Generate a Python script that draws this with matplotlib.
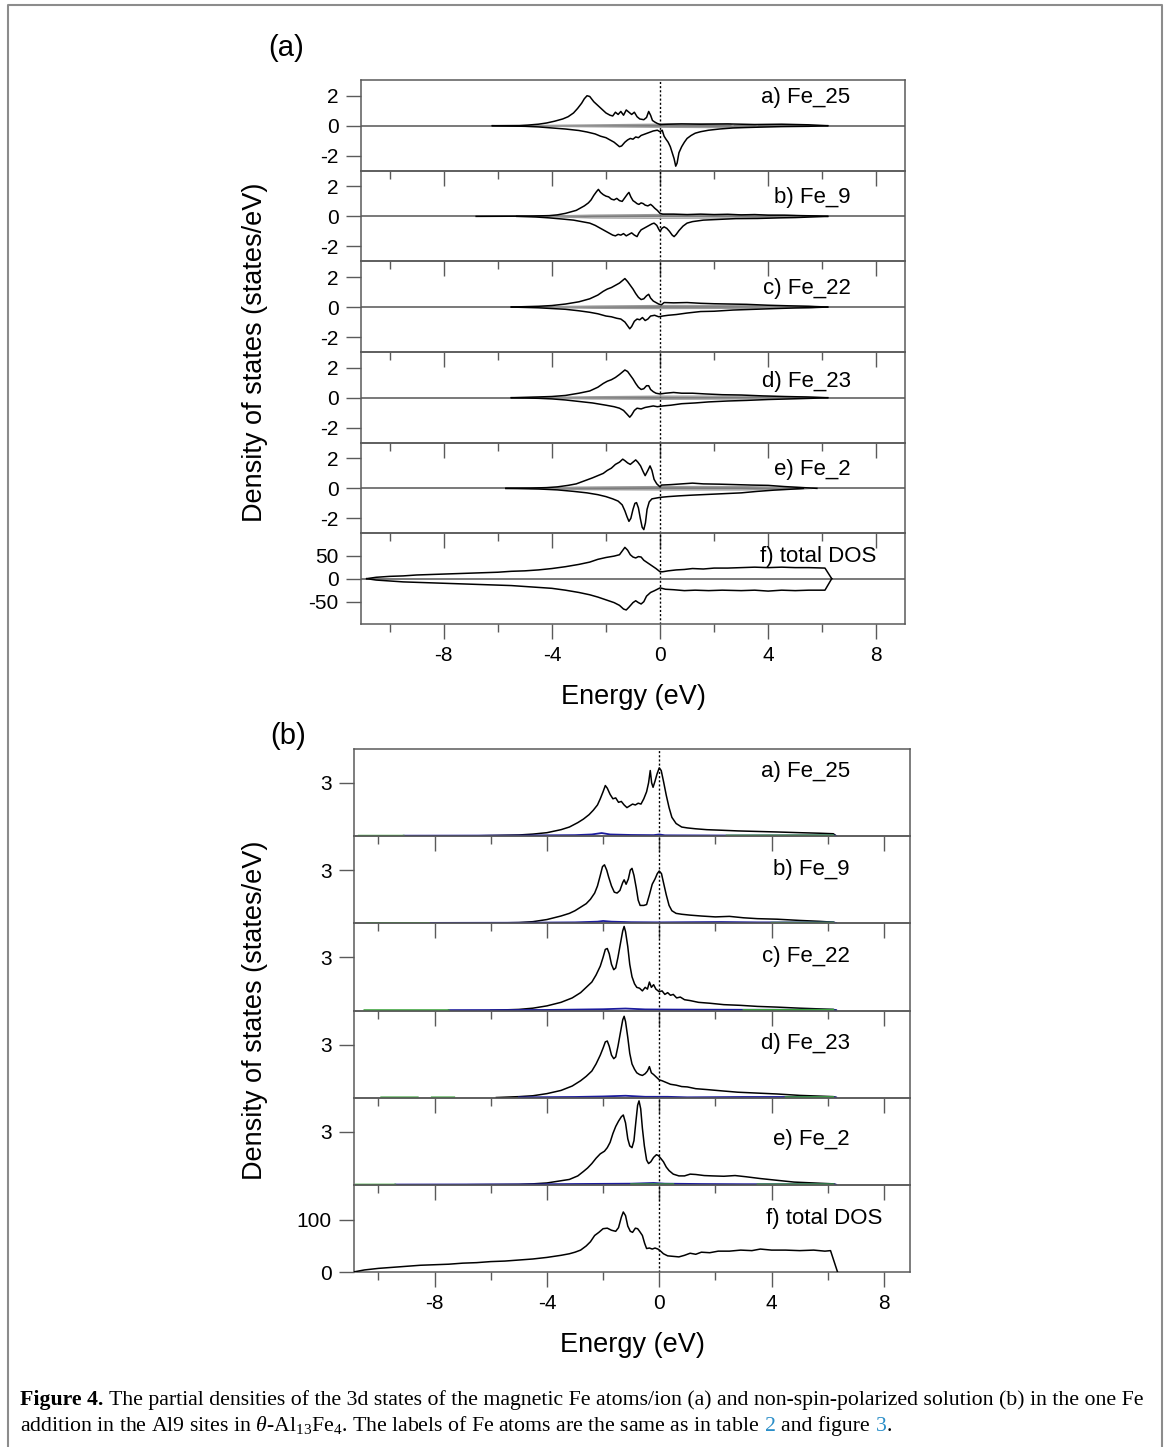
import numpy as np
import matplotlib.pyplot as plt
from matplotlib.lines import Line2D

plt.rcParams['font.family'] = ['Liberation Sans', 'DejaVu Sans']
plt.rcParams['axes.unicode_minus'] = False
plt.rcParams['mathtext.fontset'] = 'custom'
plt.rcParams['mathtext.rm'] = 'Liberation Serif'
plt.rcParams['mathtext.it'] = 'Liberation Serif:italic'

nan = float('nan')

## (a) spin-polarized 3d DOS: (energy eV, states/eV), spin up > 0, spin down < 0
spin_labels = ['a) Fe_25', 'b) Fe_9', 'c) Fe_22', 'd) Fe_23', 'e) Fe_2', 'f) total DOS']

fe25_up = [(-6.2, 0.0), (-5.2, 0.01), (-4.9, 0.04), (-4.5, 0.1), (-4.2, 0.18), (-3.9, 0.3), (-3.6, 0.45),
           (-3.4, 0.6), (-3.2, 0.85), (-3.05, 1.15), (-2.9, 1.5), (-2.8, 1.8), (-2.7, 2.0), (-2.6, 1.95),
           (-2.45, 1.6), (-2.3, 1.35), (-2.15, 1.1), (-2.0, 0.85), (-1.85, 0.7), (-1.75, 0.65), (-1.65, 0.9),
           (-1.55, 0.75), (-1.45, 0.95), (-1.35, 0.7), (-1.25, 1.05), (-1.15, 0.9), (-1.05, 0.75), (-0.95, 0.9),
           (-0.85, 0.6), (-0.75, 0.45), (-0.6, 0.4), (-0.5, 0.55), (-0.42, 0.95), (-0.35, 0.7), (-0.28, 0.35),
           (-0.2, 0.25), (-0.1, 0.15), (0.0, 0.08), (0.3, 0.1), (0.8, 0.12), (1.5, 0.1), (2.5, 0.12),
           (3.5, 0.08), (4.5, 0.1), (5.5, 0.06), (6.2, 0.0)]
fe25_dn = [(-6.2, 0.0), (-5.0, -0.04), (-4.5, -0.08), (-4.0, -0.15), (-3.5, -0.22), (-3.0, -0.32),
           (-2.7, -0.42), (-2.4, -0.55), (-2.2, -0.7), (-2.0, -0.8), (-1.85, -0.95), (-1.7, -1.1),
           (-1.6, -1.25), (-1.5, -1.4), (-1.42, -1.35), (-1.3, -1.1), (-1.2, -0.95), (-1.1, -0.85),
           (-1.0, -0.9), (-0.9, -0.75), (-0.8, -0.8), (-0.7, -0.65), (-0.55, -0.55), (-0.4, -0.45),
           (-0.25, -0.35), (-0.1, -0.3), (0.0, -0.4), (0.08, -0.3), (0.15, -0.7), (0.22, -0.9), (0.3, -1.1),
           (0.38, -1.4), (0.45, -1.8), (0.52, -2.2), (0.58, -2.7), (0.63, -2.5), (0.7, -1.8), (0.8, -1.4),
           (0.9, -1.1), (1.0, -0.85), (1.15, -0.65), (1.3, -0.5), (1.5, -0.4), (1.8, -0.3), (2.2, -0.22),
           (2.7, -0.15), (3.2, -0.12), (3.6, -0.1), (4.5, -0.06), (5.5, -0.04), (6.2, 0.0)]
fe25_grey_up = [(-5.2, 0.0), (-3.0, 0.04), (0.0, 0.1), (1.5, 0.12), (2.6, 0.1), (2.7, 0.0)]
fe25_grey_dn = [(-5.2, 0.0), (-3.0, -0.06), (0.0, -0.1), (2.0, -0.12), (3.5, -0.1), (3.6, 0.0)]

fe9_up = [(-6.8, 0.0), (-5.5, 0.01), (-4.8, 0.02), (-4.1, 0.05), (-3.8, 0.1), (-3.5, 0.2), (-3.3, 0.3),
          (-3.1, 0.4), (-2.95, 0.55), (-2.8, 0.7), (-2.65, 0.9), (-2.55, 1.1), (-2.45, 1.4), (-2.35, 1.65),
          (-2.28, 1.8), (-2.2, 1.6), (-2.1, 1.45), (-2.0, 1.35), (-1.9, 1.3), (-1.8, 1.15), (-1.7, 1.1),
          (-1.6, 1.2), (-1.5, 1.05), (-1.4, 1.0), (-1.3, 1.25), (-1.2, 1.5), (-1.15, 1.6), (-1.08, 1.3),
          (-1.0, 1.05), (-0.92, 0.95), (-0.85, 0.85), (-0.78, 0.8), (-0.7, 0.9), (-0.62, 0.85), (-0.55, 0.75),
          (-0.45, 0.7), (-0.35, 0.8), (-0.28, 0.7), (-0.2, 0.55), (-0.1, 0.4), (0.0, 0.2), (0.1, 0.15),
          (0.5, 0.15), (1.0, 0.12), (1.5, 0.15), (2.0, 0.12), (2.5, 0.14), (3.0, 0.1), (3.5, 0.12),
          (4.0, 0.08), (4.6, 0.08), (5.2, 0.05), (5.8, 0.03), (6.2, 0.0)]
fe9_dn = [(-5.3, 0.0), (-4.6, -0.04), (-4.1, -0.1), (-3.6, -0.18), (-3.2, -0.25), (-2.9, -0.35), (-2.6, -0.45),
          (-2.4, -0.6), (-2.2, -0.8), (-2.05, -0.95), (-1.9, -1.1), (-1.75, -1.25), (-1.65, -1.3),
          (-1.55, -1.2), (-1.45, -1.25), (-1.35, -1.15), (-1.25, -1.3), (-1.15, -1.2), (-1.05, -1.1),
          (-0.95, -1.25), (-0.85, -1.35), (-0.78, -1.1), (-0.7, -0.9), (-0.6, -0.8), (-0.5, -0.7),
          (-0.4, -0.6), (-0.3, -0.5), (-0.22, -0.45), (-0.12, -0.6), (-0.05, -0.85), (0.0, -1.0),
          (0.07, -0.8), (0.15, -0.7), (0.25, -0.8), (0.35, -1.0), (0.45, -1.25), (0.52, -1.35), (0.6, -1.2),
          (0.7, -0.95), (0.85, -0.65), (1.0, -0.45), (1.2, -0.35), (1.6, -0.25), (2.2, -0.2), (2.8, -0.15),
          (3.6, -0.14), (4.4, -0.1), (5.0, -0.08), (5.6, -0.04), (6.2, 0.0)]
fe9_grey_up = [(-4.7, 0.0), (-2.5, 0.08), (0.0, 0.12), (3.0, 0.1), (5.0, 0.05), (5.2, 0.0)]
fe9_grey_dn = [(-4.7, 0.0), (-2.5, -0.1), (0.0, -0.12), (3.0, -0.1), (5.0, -0.05), (5.2, 0.0)]

fe22_up = [(-5.5, 0.0), (-4.5, 0.05), (-4.0, 0.1), (-3.5, 0.2), (-3.0, 0.35), (-2.6, 0.55), (-2.3, 0.8),
           (-2.1, 1.05), (-1.95, 1.2), (-1.8, 1.3), (-1.65, 1.45), (-1.5, 1.6), (-1.4, 1.75), (-1.3, 1.9),
           (-1.2, 1.7), (-1.1, 1.45), (-1.0, 1.2), (-0.9, 0.9), (-0.8, 0.65), (-0.7, 0.5), (-0.6, 0.55),
           (-0.5, 0.75), (-0.42, 0.85), (-0.35, 0.6), (-0.25, 0.4), (-0.15, 0.3), (-0.05, 0.2), (0.05, 0.15),
           (0.15, 0.3), (0.5, 0.28), (1.0, 0.3), (1.5, 0.25), (2.0, 0.22), (2.6, 0.2), (3.2, 0.18),
           (4.0, 0.12), (4.8, 0.08), (5.5, 0.05), (6.2, 0.0)]
fe22_dn = [(-5.5, 0.0), (-4.5, -0.05), (-4.0, -0.1), (-3.5, -0.15), (-3.0, -0.25), (-2.6, -0.35),
           (-2.3, -0.45), (-2.0, -0.6), (-1.8, -0.65), (-1.6, -0.75), (-1.45, -0.8), (-1.3, -1.0),
           (-1.2, -1.25), (-1.12, -1.45), (-1.05, -1.3), (-0.95, -0.95), (-0.85, -0.8), (-0.75, -0.85),
           (-0.65, -0.7), (-0.55, -0.9), (-0.45, -0.8), (-0.35, -0.6), (-0.2, -0.55), (-0.05, -0.65),
           (0.1, -0.6), (0.3, -0.55), (0.6, -0.5), (1.0, -0.4), (1.5, -0.3), (2.0, -0.28), (2.7, -0.2),
           (3.5, -0.15), (4.3, -0.1), (5.0, -0.06), (5.6, -0.04), (6.2, 0.0)]
fe22_grey_up = [(-5.0, 0.0), (-2.5, 0.06), (0.0, 0.1), (3.0, 0.1), (5.5, 0.04), (6.0, 0.0)]
fe22_grey_dn = [(-5.0, 0.0), (-2.5, -0.08), (0.0, -0.1), (3.0, -0.08), (5.5, -0.04), (6.0, 0.0)]

fe23_up = [(-5.5, 0.0), (-4.5, 0.05), (-4.0, 0.08), (-3.5, 0.15), (-3.0, 0.3), (-2.6, 0.45), (-2.3, 0.7),
           (-2.1, 0.95), (-1.95, 1.1), (-1.8, 1.2), (-1.65, 1.35), (-1.5, 1.55), (-1.4, 1.7), (-1.3, 1.85),
           (-1.2, 1.75), (-1.1, 1.5), (-1.0, 1.25), (-0.9, 0.95), (-0.8, 0.7), (-0.7, 0.55), (-0.6, 0.6),
           (-0.5, 0.8), (-0.42, 0.8), (-0.35, 0.55), (-0.25, 0.4), (-0.15, 0.3), (0.0, 0.25), (0.2, 0.3),
           (0.5, 0.35), (0.8, 0.3), (1.2, 0.3), (1.7, 0.25), (2.3, 0.2), (3.0, 0.18), (3.8, 0.12),
           (4.6, 0.08), (5.4, 0.05), (6.2, 0.0)]
fe23_dn = [(-5.5, 0.0), (-4.5, -0.04), (-4.0, -0.08), (-3.5, -0.15), (-3.0, -0.25), (-2.5, -0.35),
           (-2.0, -0.5), (-1.7, -0.6), (-1.5, -0.7), (-1.35, -0.85), (-1.22, -1.1), (-1.12, -1.3),
           (-1.05, -1.15), (-0.95, -0.85), (-0.85, -0.7), (-0.7, -0.75), (-0.55, -0.65), (-0.4, -0.6),
           (-0.25, -0.55), (-0.1, -0.6), (0.1, -0.55), (0.4, -0.5), (0.8, -0.4), (1.3, -0.35), (1.8, -0.28),
           (2.5, -0.22), (3.2, -0.18), (4.0, -0.12), (4.8, -0.08), (5.6, -0.04), (6.2, 0.0)]
fe23_grey_up = [(-5.0, 0.0), (-2.5, 0.06), (0.0, 0.1), (3.0, 0.1), (5.5, 0.04), (6.0, 0.0)]
fe23_grey_dn = [(-5.0, 0.0), (-2.5, -0.08), (0.0, -0.1), (3.0, -0.08), (5.5, -0.04), (6.0, 0.0)]

fe2_up = [(-5.7, 0.0), (-4.8, 0.02), (-4.2, 0.05), (-3.8, 0.1), (-3.4, 0.2), (-3.1, 0.3), (-2.8, 0.5),
          (-2.5, 0.7), (-2.3, 0.85), (-2.1, 1.0), (-1.95, 1.2), (-1.8, 1.35), (-1.65, 1.6), (-1.5, 1.75),
          (-1.38, 1.95), (-1.3, 1.85), (-1.2, 1.7), (-1.1, 1.6), (-1.0, 1.75), (-0.9, 1.9), (-0.82, 1.75),
          (-0.72, 1.5), (-0.62, 1.1), (-0.55, 0.85), (-0.45, 1.2), (-0.37, 1.5), (-0.3, 1.2), (-0.22, 0.6),
          (-0.12, 0.3), (0.0, 0.1), (0.05, 0.22), (0.4, 0.25), (0.8, 0.3), (1.2, 0.35), (1.6, 0.3),
          (2.2, 0.28), (2.8, 0.25), (3.4, 0.22), (4.0, 0.2), (4.6, 0.12), (5.2, 0.06), (5.8, 0.0)]
fe2_dn = [(-5.7, 0.0), (-4.5, -0.04), (-3.8, -0.1), (-3.2, -0.2), (-2.7, -0.3), (-2.3, -0.42), (-2.0, -0.55),
          (-1.75, -0.7), (-1.55, -0.85), (-1.4, -1.1), (-1.3, -1.5), (-1.22, -1.9), (-1.15, -2.2),
          (-1.08, -2.0), (-1.0, -1.4), (-0.93, -1.0), (-0.87, -0.95), (-0.8, -1.3), (-0.73, -2.0),
          (-0.66, -2.6), (-0.6, -2.75), (-0.54, -2.3), (-0.48, -1.4), (-0.4, -0.9), (-0.3, -0.7),
          (-0.15, -0.65), (0.0, -0.6), (0.3, -0.55), (0.7, -0.5), (1.2, -0.45), (1.8, -0.4), (2.4, -0.35),
          (3.0, -0.3), (3.6, -0.2), (4.2, -0.12), (4.8, -0.06), (5.3, 0.0)]
fe2_grey_up = [(-4.8, 0.0), (-3.0, 0.08), (0.0, 0.12), (3.0, 0.12), (5.2, 0.05), (5.6, 0.0)]
fe2_grey_dn = [(-4.8, 0.0), (-3.0, -0.08), (0.0, -0.1), (3.0, -0.1), (5.2, -0.05), (5.6, 0.0)]

tot_up = [(-10.85, 0), (-10.5, 3), (-10.0, 5), (-9.5, 6), (-9.0, 8), (-8.5, 9), (-8.0, 10), (-7.5, 11),
          (-7.0, 12), (-6.5, 13), (-6.0, 14), (-5.5, 16), (-5.0, 17), (-4.5, 19), (-4.0, 22), (-3.5, 26),
          (-3.0, 31), (-2.6, 36), (-2.3, 42), (-2.0, 46), (-1.7, 49), (-1.5, 52), (-1.4, 60), (-1.3, 68),
          (-1.2, 62), (-1.1, 52), (-1.0, 47), (-0.9, 45), (-0.8, 48), (-0.7, 47), (-0.6, 40), (-0.45, 34),
          (-0.3, 28), (-0.15, 22), (0.0, 15), (0.1, 15), (0.3, 17), (0.6, 19), (0.9, 20), (1.2, 22),
          (1.6, 21), (2.0, 23), (2.5, 23), (3.0, 24), (3.5, 25), (4.0, 24), (4.5, 25), (5.0, 24),
          (5.5, 24), (6.1, 23), (6.35, 0)]
tot_dn = [(-10.85, 0), (-10.5, -3), (-10.0, -5), (-9.5, -7), (-9.0, -8), (-8.5, -9), (-8.0, -10),
          (-7.5, -11), (-7.0, -12), (-6.5, -13), (-6.0, -14), (-5.5, -15), (-5.0, -17), (-4.5, -19),
          (-4.0, -21), (-3.5, -25), (-3.0, -30), (-2.6, -35), (-2.3, -40), (-2.0, -46), (-1.7, -52),
          (-1.5, -58), (-1.35, -66), (-1.25, -68), (-1.15, -62), (-1.0, -52), (-0.9, -48), (-0.8, -52),
          (-0.7, -55), (-0.6, -50), (-0.5, -38), (-0.35, -30), (-0.2, -26), (0.0, -20), (0.2, -23),
          (0.5, -24), (0.9, -26), (1.3, -25), (1.8, -26), (2.3, -25), (3.0, -26), (3.5, -25), (4.0, -27),
          (4.5, -25), (5.0, -26), (5.5, -25), (6.1, -25), (6.35, 0)]

## (b) non-spin-polarized 3d DOS
np_fe25 = [(-6.6, 0.0), (-6.0, 0.02), (-5.0, 0.05), (-4.5, 0.1), (-4.0, 0.18), (-3.5, 0.35),
           (-3.2, 0.5), (-2.9, 0.75), (-2.7, 0.95), (-2.5, 1.2), (-2.35, 1.45), (-2.2, 1.75), (-2.1, 2.1),
           (-2.0, 2.5), (-1.92, 2.85), (-1.85, 2.7), (-1.75, 2.35), (-1.65, 2.1), (-1.55, 2.15), (-1.45, 1.9),
           (-1.35, 1.95), (-1.25, 1.75), (-1.15, 1.6), (-1.05, 1.7), (-0.95, 1.8), (-0.85, 1.75),
           (-0.75, 1.85), (-0.65, 1.8), (-0.55, 2.1), (-0.45, 2.5), (-0.38, 3.0), (-0.32, 3.7), (-0.27, 3.0),
           (-0.22, 2.75), (-0.15, 3.1), (-0.08, 3.5), (0.0, 3.85), (0.07, 3.7), (0.15, 3.1), (0.25, 2.3),
           (0.35, 1.6), (0.45, 1.05), (0.6, 0.7), (0.8, 0.5), (1.0, 0.45), (1.3, 0.4), (1.7, 0.35),
           (2.2, 0.32), (2.8, 0.28), (3.5, 0.25), (4.2, 0.22), (5.0, 0.18), (5.7, 0.15), (6.2, 0.12),
           (6.3, 0.0)]
np_fe25_blue = [(-9.1, 0.01), (-5.0, 0.02), (-3.0, 0.04), (-2.4, 0.08), (-2.05, 0.16), (-1.75, 0.08),
                (-1.0, 0.05), (-0.2, 0.04), (0.0, 0.08), (0.2, 0.03), (2.4, 0.02), (6.2, 0.03), (6.3, 0.0)]
np_fe25_green = [(-10.7, 0.01), (-9.1, 0.01), (nan, nan), (2.4, 0.02), (6.2, 0.03)]

np_fe9 = [(-6.0, 0.0), (-5.0, 0.03), (-4.5, 0.08), (-4.0, 0.2), (-3.5, 0.4), (-3.2, 0.55),
          (-3.0, 0.7), (-2.8, 0.9), (-2.6, 1.1), (-2.45, 1.35), (-2.3, 1.7), (-2.2, 2.1), (-2.1, 2.7),
          (-2.02, 3.2), (-1.95, 3.3), (-1.87, 3.0), (-1.8, 2.6), (-1.7, 2.1), (-1.6, 1.75), (-1.5, 1.7),
          (-1.4, 1.85), (-1.3, 2.3), (-1.25, 2.45), (-1.18, 2.2), (-1.1, 2.5), (-1.03, 3.0), (-0.97, 3.1),
          (-0.9, 2.7), (-0.82, 2.0), (-0.75, 1.3), (-0.68, 1.0), (-0.55, 1.0), (-0.45, 1.05), (-0.35, 1.6),
          (-0.25, 2.2), (-0.15, 2.5), (-0.07, 2.8), (0.0, 2.95), (0.08, 2.8), (0.15, 2.3), (0.25, 1.6),
          (0.35, 1.0), (0.45, 0.7), (0.6, 0.55), (0.8, 0.5), (1.1, 0.45), (1.5, 0.4), (2.0, 0.35),
          (2.5, 0.38), (3.0, 0.3), (3.5, 0.25), (4.2, 0.22), (5.0, 0.15), (5.7, 0.1), (6.2, 0.05), (6.3, 0.0)]
np_fe9_blue = [(-8.2, 0.01), (-5.0, 0.02), (-3.0, 0.04), (-2.2, 0.08), (-2.0, 0.12), (-1.7, 0.08),
               (-1.0, 0.05), (0.0, 0.04), (1.0, 0.05), (2.2, 0.06), (3.5, 0.04), (6.2, 0.04), (6.3, 0.0)]
np_fe9_green = [(-10.4, 0.01), (-8.2, 0.01), (nan, nan), (4.0, 0.02), (6.2, 0.03)]

np_fe22 = [(-6.0, 0.0), (-5.0, 0.05), (-4.5, 0.12), (-4.0, 0.25), (-3.5, 0.45), (-3.1, 0.7),
           (-2.8, 1.0), (-2.6, 1.3), (-2.4, 1.6), (-2.25, 2.0), (-2.1, 2.5), (-2.0, 3.0), (-1.92, 3.45),
           (-1.85, 3.5), (-1.78, 3.2), (-1.7, 2.6), (-1.62, 2.3), (-1.55, 2.4), (-1.47, 3.0), (-1.38, 3.8),
           (-1.3, 4.5), (-1.25, 4.75), (-1.2, 4.45), (-1.12, 3.6), (-1.05, 2.6), (-0.97, 1.9), (-0.88, 1.5),
           (-0.8, 1.3), (-0.7, 1.25), (-0.6, 1.1), (-0.5, 1.3), (-0.42, 1.2), (-0.35, 1.6), (-0.28, 1.3),
           (-0.2, 1.45), (-0.12, 1.2), (0.0, 1.05), (0.1, 1.1), (0.2, 0.9), (0.3, 1.0), (0.4, 0.85),
           (0.5, 0.9), (0.62, 0.7), (0.75, 0.75), (0.9, 0.6), (1.1, 0.55), (1.4, 0.45), (1.8, 0.4),
           (2.3, 0.32), (2.9, 0.28), (3.5, 0.22), (4.2, 0.18), (5.0, 0.12), (5.7, 0.08), (6.2, 0.05),
           (6.3, 0.0)]
np_fe22_blue = [(-7.5, 0.01), (-4.0, 0.02), (-2.0, 0.06), (-1.2, 0.1), (-0.5, 0.05), (0.5, 0.04),
                (3.0, 0.03), (6.2, 0.03), (6.3, 0.0)]
np_fe22_green = [(-10.5, 0.01), (-7.5, 0.01), (nan, nan), (3.0, 0.02), (6.2, 0.03)]

np_fe23 = [(-5.8, 0.0), (-5.0, 0.05), (-4.5, 0.1), (-4.0, 0.22), (-3.5, 0.4), (-3.1, 0.65),
           (-2.8, 0.95), (-2.6, 1.2), (-2.4, 1.5), (-2.25, 1.9), (-2.1, 2.4), (-2.0, 2.8), (-1.92, 3.15),
           (-1.85, 3.2), (-1.78, 2.9), (-1.7, 2.4), (-1.62, 2.2), (-1.55, 2.3), (-1.47, 2.9), (-1.38, 3.7),
           (-1.3, 4.4), (-1.25, 4.6), (-1.2, 4.3), (-1.12, 3.4), (-1.05, 2.5), (-0.97, 1.9), (-0.88, 1.6),
           (-0.8, 1.4), (-0.7, 1.3), (-0.6, 1.25), (-0.5, 1.35), (-0.42, 1.5), (-0.35, 1.75), (-0.28, 1.4),
           (-0.2, 1.3), (-0.1, 1.15), (0.0, 1.0), (0.1, 0.95), (0.25, 0.85), (0.4, 0.75), (0.6, 0.7),
           (0.8, 0.62), (1.0, 0.6), (1.3, 0.5), (1.7, 0.45), (2.2, 0.38), (2.8, 0.3), (3.5, 0.25),
           (4.2, 0.2), (5.0, 0.12), (5.7, 0.08), (6.2, 0.05), (6.3, 0.0)]
np_fe23_blue = [(-5.0, 0.01), (-3.0, 0.03), (-2.0, 0.06), (-1.2, 0.1), (-0.5, 0.04), (0.3, 0.04),
                (1.0, 0.01), (3.0, 0.03), (6.2, 0.03), (6.3, 0.0)]
np_fe23_green = [(-9.9, 0.01), (-8.6, 0.01), (nan, nan), (-8.1, 0.01), (-7.3, 0.01), (nan, nan),
                 (4.5, 0.02), (6.2, 0.03)]

np_fe2 = [(-6.8, 0.0), (-5.0, 0.02), (-4.5, 0.05), (-4.0, 0.1), (-3.6, 0.2), (-3.2, 0.3),
          (-2.9, 0.5), (-2.7, 0.75), (-2.55, 0.95), (-2.4, 1.2), (-2.25, 1.5), (-2.1, 1.75), (-1.95, 1.9),
          (-1.85, 2.1), (-1.75, 2.4), (-1.65, 2.9), (-1.55, 3.3), (-1.45, 3.6), (-1.35, 3.85), (-1.28, 3.95),
          (-1.2, 3.5), (-1.12, 2.6), (-1.05, 2.2), (-0.97, 2.1), (-0.9, 2.5), (-0.83, 3.6), (-0.77, 4.5),
          (-0.72, 4.75), (-0.66, 4.3), (-0.6, 3.2), (-0.53, 2.2), (-0.45, 1.4), (-0.38, 1.2), (-0.3, 1.3),
          (-0.2, 1.55), (-0.1, 1.7), (-0.03, 1.65), (0.05, 1.5), (0.15, 1.3), (0.25, 1.0), (0.35, 0.8),
          (0.5, 0.6), (0.7, 0.5), (0.9, 0.5), (1.1, 0.6), (1.3, 0.58), (1.6, 0.52), (1.9, 0.5), (2.3, 0.48),
          (2.7, 0.52), (3.1, 0.45), (3.6, 0.35), (4.2, 0.25), (4.8, 0.15), (5.5, 0.1), (6.2, 0.05),
          (6.3, 0.0)]
np_fe2_blue = [(-9.4, 0.01), (-5.0, 0.02), (-2.0, 0.05), (-1.0, 0.06), (-0.2, 0.1), (0.2, 0.06),
               (1.5, 0.04), (3.0, 0.03), (6.2, 0.03), (6.3, 0.0)]
np_fe2_green = [(-10.8, 0.01), (-9.4, 0.01), (nan, nan), (-1.0, 0.03), (0.5, 0.03), (nan, nan),
                (3.5, 0.02), (6.2, 0.03)]

np_tot = [(-10.9, 0), (-10.5, 4), (-10.0, 7), (-9.5, 9), (-9.0, 11), (-8.5, 13), (-8.0, 14), (-7.5, 15),
          (-7.0, 17), (-6.5, 18), (-6.0, 20), (-5.5, 21), (-5.0, 23), (-4.5, 25), (-4.0, 28), (-3.5, 32),
          (-3.2, 35), (-3.0, 38), (-2.8, 42), (-2.6, 50), (-2.45, 58), (-2.3, 70), (-2.15, 76), (-2.0, 83),
          (-1.85, 84), (-1.7, 80), (-1.55, 78), (-1.45, 85), (-1.35, 105), (-1.28, 115), (-1.2, 108),
          (-1.12, 88), (-1.03, 78), (-0.95, 76), (-0.85, 84), (-0.77, 83), (-0.7, 78), (-0.6, 70),
          (-0.52, 55), (-0.45, 45), (-0.35, 46), (-0.25, 44), (-0.15, 46), (-0.05, 44), (0.05, 40),
          (0.15, 35), (0.3, 31), (0.5, 30), (0.7, 29), (0.9, 32), (1.1, 36), (1.3, 34), (1.5, 38),
          (1.8, 37), (2.1, 40), (2.5, 40), (2.9, 42), (3.3, 41), (3.6, 44), (4.0, 42), (4.5, 42),
          (5.0, 41), (5.5, 42), (5.9, 40), (6.1, 41), (6.35, 0)]

spin_up = [fe25_up, fe9_up, fe22_up, fe23_up, fe2_up, tot_up]
spin_dn = [fe25_dn, fe9_dn, fe22_dn, fe23_dn, fe2_dn, tot_dn]
grey_up = [fe25_grey_up, fe9_grey_up, fe22_grey_up, fe23_grey_up, fe2_grey_up, None]
grey_dn = [fe25_grey_dn, fe9_grey_dn, fe22_grey_dn, fe23_grey_dn, fe2_grey_dn, None]
nsp = [np_fe25, np_fe9, np_fe22, np_fe23, np_fe2, np_tot]
nsp_blue = [np_fe25_blue, np_fe9_blue, np_fe22_blue, np_fe23_blue, np_fe2_blue, None]
nsp_green = [np_fe25_green, np_fe9_green, np_fe22_green, np_fe23_green, np_fe2_green, None]


def xy(pairs):
    a = np.array(pairs, dtype=float)
    return a[:, 0], a[:, 1]


W, H = 1170, 1447
fig = plt.figure(figsize=(W / 100, H / 100), dpi=100)
SPINE = '#5a5a5a'


def style(ax, xlim, last):
    ax.patch.set_visible(False)
    for s in ax.spines.values():
        s.set_color(SPINE)
        s.set_linewidth(1.1)
    ax.set_xlim(*xlim)
    ax.set_xticks([-8, -4, 0, 4, 8])
    ax.set_xticks([-10, -6, -2, 2, 6], minor=True)
    ax.tick_params(axis='x', which='major', direction='out', length=10.5, width=1.0, color=SPINE,
                   labelsize=15, pad=5, labelbottom=last)
    ax.tick_params(axis='x', which='minor', direction='out', length=6, width=1.0, color=SPINE)
    ax.tick_params(axis='y', direction='out', length=11, width=1.0, color=SPINE, labelsize=15, pad=5)
    ax.axvline(0, color='k', lw=1.0, ls=(0, (1.5, 1.5)), zorder=1)


# ---- panel (a) ----
left, right, top, bottom = 361, 905, 80, 624
h = (bottom - top) / 6
label_y_a = [0.81, 0.70, 0.70, 0.68, 0.70, 0.74]
for i in range(6):
    ax = fig.add_axes([left / W, 1 - (top + (i + 1) * h) / H, (right - left) / W, h / H])
    last = i == 5
    style(ax, (-11.06, 9.06), last)
    ax.axhline(0, color='#555555', lw=1.1, zorder=1)
    if grey_up[i] is not None:
        ax.plot(*xy(grey_up[i]), color='#9a9a9a', lw=1.0)
        ax.plot(*xy(grey_dn[i]), color='#9a9a9a', lw=1.0)
    ax.plot(*xy(spin_up[i]), color='k', lw=1.1)
    ax.plot(*xy(spin_dn[i]), color='k', lw=1.1)
    if last:
        ax.set_ylim(-98.5, 98.5)
        ax.set_yticks([-50, 0, 50])
        xr = 0.948
    else:
        ax.set_ylim(-3.0, 3.05)
        ax.set_yticks([-2, 0, 2])
        xr = 0.9
    ax.text(xr, label_y_a[i], spin_labels[i], transform=ax.transAxes, ha='right', va='center',
            fontsize=16)

# ---- panel (b) ----
left, right, top, bottom = 354, 910, 749, 1272.3
h = (bottom - top) / 6
label_y_b = [0.74, 0.62, 0.62, 0.62, 0.52, 0.62]
for i in range(6):
    ax = fig.add_axes([left / W, 1 - (top + (i + 1) * h) / H, (right - left) / W, h / H])
    last = i == 5
    style(ax, (-10.87, 8.93), last)
    ax.plot(*xy(nsp[i]), color='k', lw=1.1, zorder=3)
    if nsp_green[i] is not None:
        ax.plot(*xy(nsp_blue[i]), color='#1c1c9c', lw=1.3, zorder=3)
        ax.plot(*xy(nsp_green[i]), color='#3aa23a', lw=1.3, zorder=3)
    if last:
        ax.set_ylim(-0.5, 166.5)
        ax.set_yticks([0, 100])
        xr = 0.95
    else:
        ax.set_ylim(-0.02, 4.92)
        ax.set_yticks([3])
        xr = 0.892
    ax.text(xr, label_y_b[i], spin_labels[i], transform=ax.transAxes, ha='right', va='center',
            fontsize=16)

# figure-level labels
fig.text(286 / W, 1 - 48 / H, '(a)', fontsize=21, ha='center', va='center')
fig.text(288 / W, 1 - 736 / H, '(b)', fontsize=21, ha='center', va='center')
ylab = 'Density of states (states/eV)'
fig.text(255 / W, 1 - 352 / H, ylab, rotation=90, fontsize=19.5, ha='center', va='center')
fig.text(255 / W, 1 - 1010 / H, ylab, rotation=90, fontsize=19.5, ha='center', va='center')
fig.text(633 / W, 1 - 697 / H, 'Energy (eV)', fontsize=19.5, ha='center', va='center')
fig.text(632 / W, 1 - 1345 / H, 'Energy (eV)', fontsize=19.5, ha='center', va='center')

# outer frame of the figure box
frame = '#8c8c8c'
fig.add_artist(Line2D([8 / W, 8 / W, 1162 / W, 1162 / W], [0, 1 - 5 / H, 1 - 5 / H, 0],
                      transform=fig.transFigure, color=frame, lw=1.5))

# ---- caption, pieces placed one after another ----
fig.canvas.draw()
rend = fig.canvas.get_renderer()
SERIF = 'Liberation Serif'


def text_w(s, size, **kw):
    t = fig.text(0, 0, s, fontsize=size, family=SERIF, **kw)
    w = t.get_window_extent(rend).width
    t.remove()
    return w


def caption_line(pieces, x0, y, size):
    sp = text_w('a a', size) - text_w('aa', size)
    x = x0
    for s, kw, gap in pieces:
        t = fig.text(x / W, 1 - y / H, s, fontsize=size, family=SERIF, va='baseline', **kw)
        x += t.get_window_extent(rend).width + (sp if gap else 0)
    return x


line1 = [('Figure 4.', {'weight': 'bold'}, True),
         ('The partial densities of the 3d states of the magnetic Fe atoms/ion (a) and '
          'non-spin-polarized solution (b) in the one Fe', {}, False)]
blue = {'color': '#2a8ec8'}
line2 = [(r'addition in the Al9 sites in $\theta$-Al$_{13}$Fe$_{4}$. The labels of Fe atoms are the same '
          'as in table', {}, True),
         ('2', blue, True), ('and figure', {}, True), ('3', blue, False), ('.', {}, False)]

size = 14
full = text_w('Figure 4.', size, weight='bold') + text_w(line1[1][0], size) + \
    (text_w('a a', size) - text_w('aa', size))
size = size * 1130 / full
caption_line(line1, 20, 1405, size)
caption_line(line2, 20, 1431, size)

fig.savefig('out.png', dpi=100)
